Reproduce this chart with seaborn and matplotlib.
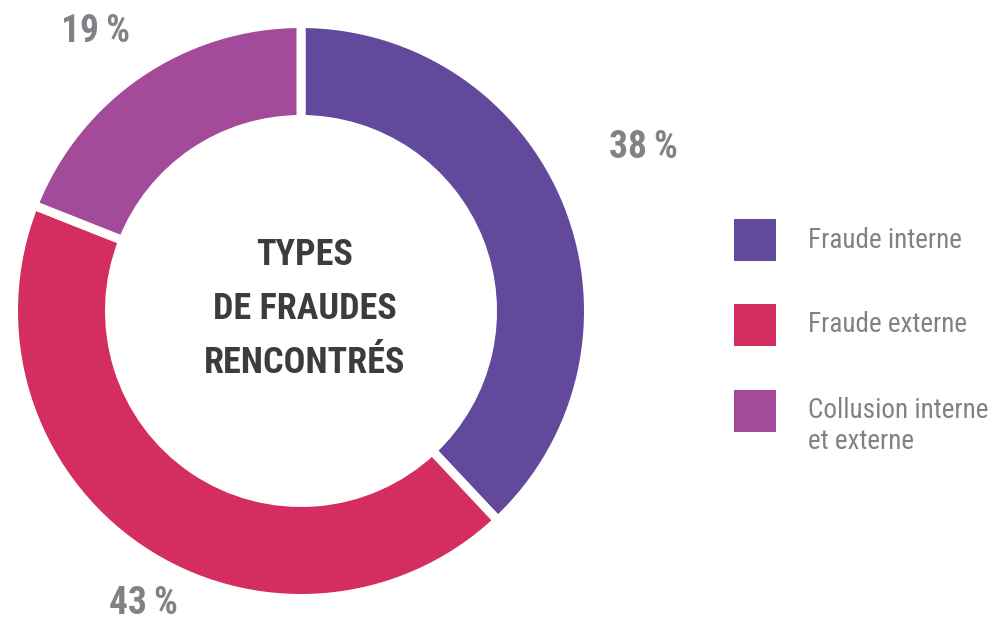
import matplotlib
matplotlib.use("Agg")
import matplotlib.pyplot as plt
import seaborn as sns
from matplotlib.patches import Rectangle

categories = ["Fraude interne", "Fraude externe", "Collusion interne\net externe"]
values = [38, 43, 19]
pct_labels = ["38\u2009%", "43\u2009%", "19\u2009%"]
colors = ["#62499B", "#D42D60", "#A34A98"]
center_title = "TYPES\nDE FRAUDES\nRENCONTRÉS"

sns.set_theme(style="white")
plt.rcParams['font.family'] = ['Roboto Condensed', 'Roboto', 'DejaVu Sans']

W, H = 996, 623
fig = plt.figure(figsize=(W / 100, H / 100), dpi=100)
ax = fig.add_axes([0, 0, 1, 1])

cx, cy = 301, H - 311
gap_px = 9
R_out = 283 + gap_px / 2
ring_w = 87 + gap_px
ax.pie(values, colors=colors, startangle=90, counterclock=False,
       center=(cx, cy), radius=R_out,
       wedgeprops=dict(width=ring_w, edgecolor="white",
                       linewidth=gap_px * 0.72))
ax.set_xlim(0, W)
ax.set_ylim(0, H)
ax.set_aspect("equal")
ax.axis("off")

grey = "#808285"
label_pos = [(643, 147), (143, 604), (95, 32)]
for lab, (x, y) in zip(pct_labels, label_pos):
    ax.text(x, H - y, lab, ha="center", va="center", fontsize=27,
            fontweight="heavy", color=grey)

ax.text(305, H - 309, center_title, ha="center", va="center", fontsize=26,
        fontweight="heavy", color="#3C3C3C", linespacing=1.65)

leg_y = [240, 325, 411]
for cat, col, y in zip(categories, colors, leg_y):
    ax.add_patch(Rectangle((734, H - y - 21), 42, 42, facecolor=col,
                           edgecolor="none"))
    ty = y if "\n" not in cat else y + 15
    ax.text(808, H - ty, cat, ha="left", va="center", fontsize=19.5,
            color=grey, linespacing=1.15)

fig.savefig("out.png", dpi=100)
